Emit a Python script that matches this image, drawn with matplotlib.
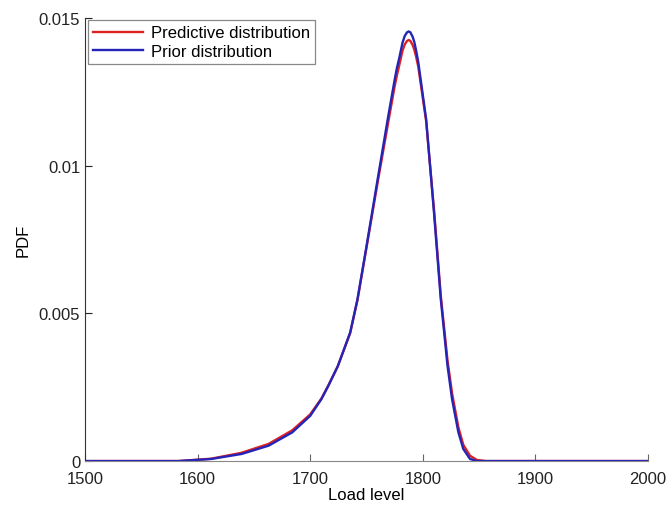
import numpy as np
import matplotlib.pyplot as plt

plt.rcParams['font.family'] = ['Liberation Sans', 'DejaVu Sans']

# values
load = [1500, 1583, 1612, 1639, 1663, 1684, 1700, 1710, 1716, 1724.5, 1735.5,
        1742, 1750, 1760, 1769, 1775, 1777, 1779, 1782, 1784, 1786, 1787.5,
        1789, 1791, 1792.5, 1794, 1796, 1803, 1810, 1816, 1819, 1822, 1826,
        1831.6, 1836, 1842, 1848, 1856, 2000]

predictive = [0, 0, 0.00008, 0.00028, 0.00058, 0.00104, 0.00158, 0.00212,
              0.00255, 0.00321, 0.00433, 0.00545, 0.00722, 0.00945, 0.01140,
              0.01268, 0.01305, 0.01338, 0.01389, 0.01410, 0.01422, 0.01425,
              0.01422, 0.01408, 0.01392, 0.01370, 0.01335, 0.01150, 0.00850,
              0.00560, 0.00450, 0.00340, 0.00230, 0.00115, 0.00055, 0.00018,
              0.00004, 0, 0]

prior = [0, 0, 0.00007, 0.00024, 0.00052, 0.00097, 0.00153, 0.00210, 0.00254,
         0.00321, 0.00435, 0.00548, 0.00727, 0.00956, 0.01160, 0.01290,
         0.01330, 0.01362, 0.01416, 0.01439, 0.01451, 0.01454, 0.01451,
         0.01436, 0.01418, 0.01391, 0.01350, 0.01157, 0.00840, 0.00548,
         0.00436, 0.00322, 0.00210, 0.00098, 0.00041, 0.00007, 0, 0, 0]

xticks = [1500, 1600, 1700, 1800, 1900, 2000]
yticks = [0, 0.005, 0.01, 0.015]
ytick_labels = ['0', '0.005', '0.01', '0.015']

fig = plt.figure(figsize=(6.7, 5.1), dpi=100)
ax = fig.add_axes([0.127, 0.094, 0.84, 0.869])

ax.plot(load, predictive, color='#dd2222', lw=1.7, label='Predictive distribution')
ax.plot(load, prior, color='#2424b8', lw=1.7, label='Prior distribution')

ax.set_xlim(1500, 2000)
ax.set_ylim(0, 0.015)
ax.set_xticks(xticks)
ax.set_yticks(yticks)
ax.set_yticklabels(ytick_labels)
ax.tick_params(direction='in', length=5, labelsize=12, colors='#222222')
ax.tick_params(axis='x', pad=7, color='#666666')

for s in ['top', 'right']:
    ax.spines[s].set_visible(False)
ax.spines['left'].set_color('#333333')
ax.spines['bottom'].set_color('#888888')

ax.set_xlabel('Load level', fontsize=12, labelpad=1)
ax.set_ylabel('PDF', fontsize=12, labelpad=6)

leg = ax.legend(loc='upper left', fontsize=12, fancybox=False, framealpha=1,
                edgecolor='#888888', borderaxespad=0.15, handlelength=3.0,
                borderpad=0.3, labelspacing=0.2, handletextpad=0.5)
leg.get_frame().set_linewidth(0.9)

fig.savefig('out.png', dpi=100)
